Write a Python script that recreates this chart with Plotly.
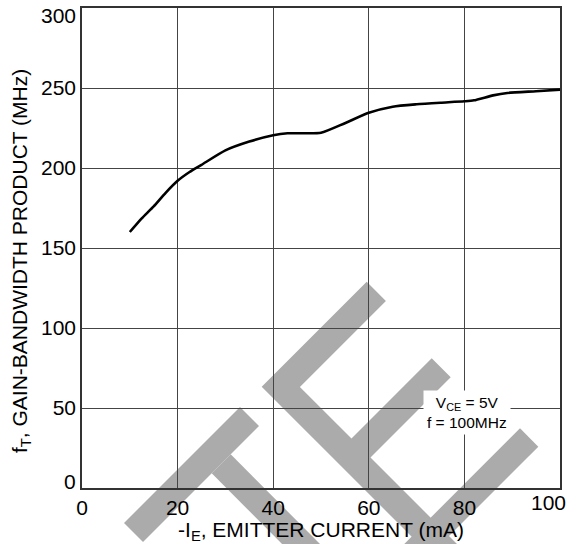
import plotly.graph_objects as go

# ---- data ----
emitter_current_mA = [10, 12.5, 15, 17.5, 20, 22.5, 25, 30, 35, 40, 43, 46, 50, 55, 60,
                      65, 70, 75, 80, 82, 86, 89, 95, 100]
gain_bandwidth_MHz = [160, 168.5, 176, 184.5, 192, 197.5, 202, 211, 216.5, 220.5, 221.7,
                      221.7, 222, 228, 234.5, 238.3, 239.8, 240.8, 241.7, 242.3, 245.4,
                      246.9, 248, 249]
x_ticks = [0, 20, 40, 60, 80, 100]
x_tick_labels = ["0", "20", "40", "60", "80", "100"]
y_ticks = [0, 50, 100, 150, 200, 250, 300]
y_tick_labels = ["0", "50", "100", "150", "200", "250", "300"]

W, H = 580, 544
L, R, T, B = 82, 20, 8, 56
PW, PH = W - L - R, H - T - B

# ---- watermark (decoration) polygons in page pixels ----
watermark = [
    [(240, 407), (259, 426), (143, 542), (124, 523)],
    [(211.7, 473.3), (230.7, 454.3), (322, 546), (303, 565)],
    [(261.7, 386.7), (366.7, 281.7), (385.9, 300.9), (299.9, 386.9), (351.5, 438.5),
     (431.7, 358.3), (450.7, 377.3), (370.5, 457.5), (473, 560), (435, 560)],
    [(520, 428.3), (538.3, 446.7), (425, 560), (388.3, 560)],
]


def to_paper(p):
    return ((p[0] - L) / PW, (H - B - p[1]) / PH)


shapes = []
for poly in watermark:
    pts = [to_paper(p) for p in poly]
    path = "M " + " L ".join(f"{x:.5f},{y:.5f}" for x, y in pts) + " Z"
    shapes.append(dict(type="path", xref="paper", yref="paper", path=path,
                       fillcolor="#ababab", line=dict(width=0), layer="below"))

fig = go.Figure()
fig.add_trace(go.Scatter(x=emitter_current_mA, y=gain_bandwidth_MHz, mode="lines",
                         line=dict(color="black", width=2.6, shape="spline", smoothing=0.6),
                         hoverinfo="skip", showlegend=False))

font = dict(family="Liberation Sans, Arial, sans-serif", color="black")

# edge tick labels are nudged inward in the reference: draw them as annotations
y_axis_text = [t if v not in (y_ticks[0], y_ticks[-1]) else "" for v, t in zip(y_ticks, y_tick_labels)]
x_axis_text = [t if v != x_ticks[-1] else "" for v, t in zip(x_ticks, x_tick_labels)]

annotations = [
    dict(xref="paper", yref="paper", x=(21 - L) / PW, y=(H - B - 261) / PH,
         text="f<sub>T</sub>, GAIN-BANDWIDTH PRODUCT (MHz)", textangle=-90,
         showarrow=False, xanchor="center", yanchor="middle", font=dict(size=21)),
    dict(x=80.5, y=47, xref="x", yref="y",
         text="V<sub>CE</sub> = 5V<br>f = 100MHz", showarrow=False,
         bgcolor="white", borderpad=3, font=dict(size=15.5)),
    dict(xref="paper", yref="y", x=0, y=y_ticks[-1], text=y_tick_labels[-1],
         showarrow=False, xanchor="right", yanchor="middle", xshift=-4, yshift=-7,
         font=dict(size=21)),
    dict(xref="paper", yref="y", x=0, y=y_ticks[0], text=y_tick_labels[0],
         showarrow=False, xanchor="right", yanchor="middle", xshift=-4, yshift=7,
         font=dict(size=21)),
    dict(xref="x", yref="paper", x=x_ticks[-1], y=0, text=x_tick_labels[-1],
         showarrow=False, xanchor="center", yanchor="top", xshift=-12, yshift=-1,
         font=dict(size=21)),
]

fig.update_layout(
    width=W, height=H,
    margin=dict(l=L, r=R, t=T, b=B, pad=0, autoexpand=False),
    paper_bgcolor="white", plot_bgcolor="rgba(0,0,0,0)",
    shapes=shapes,
    font=dict(**font, size=21),
    xaxis=dict(range=[0, 100], tickvals=x_ticks, ticktext=x_axis_text, showgrid=True,
               gridcolor="#444", gridwidth=1, zeroline=False, showline=True,
               linecolor="#333", linewidth=1.5, mirror=True, ticks="",
               tickfont=dict(size=21), ticklabeloverflow="allow", automargin=False,
               title=dict(text="-I<sub>E</sub>, EMITTER CURRENT (mA)",
                          font=dict(size=21), standoff=3)),
    yaxis=dict(range=[0, 300], tickvals=y_ticks, ticktext=y_axis_text, showgrid=True,
               gridcolor="#444", gridwidth=1, zeroline=False, showline=True,
               linecolor="#333", linewidth=1.5, mirror=True, ticks="",
               tickfont=dict(size=21), ticklabeloverflow="allow", automargin=False),
    annotations=annotations,
)

fig.write_html("out.html")
